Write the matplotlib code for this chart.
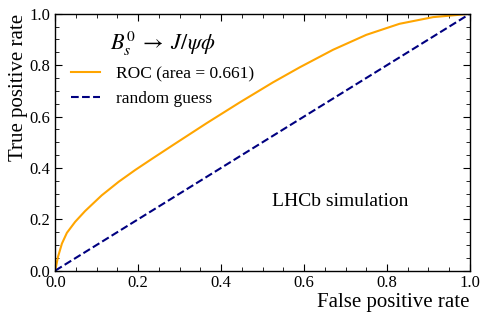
import matplotlib
matplotlib.use('Agg')
import matplotlib.pyplot as plt
from matplotlib.ticker import MultipleLocator

plt.rcParams['font.family'] = 'Liberation Serif'
plt.rcParams['mathtext.fontset'] = 'stix'

# ROC curve
fpr = [0.0, 0.0065, 0.016, 0.028, 0.048, 0.072, 0.112, 0.153, 0.193, 0.233,
       0.284, 0.365, 0.445, 0.525, 0.59, 0.67, 0.75, 0.83, 0.911, 1.0]
tpr = [0.0, 0.053, 0.105, 0.147, 0.19, 0.232, 0.293, 0.346, 0.392, 0.435,
       0.489, 0.574, 0.655, 0.733, 0.792, 0.86, 0.918, 0.961, 0.987, 1.0]
roc_area = 0.661
guess = [0.0, 1.0]

fig = plt.figure(figsize=(4.89, 3.21), dpi=100)
ax = fig.add_axes([0.113, 0.157, 0.848, 0.8])

ax.plot(fpr, tpr, color='orange', lw=1.5, solid_joinstyle='round',
        label='ROC (area = %0.3f)' % roc_area)
ax.plot(guess, guess, color='navy', lw=1.5, ls='--', label='random guess')

ax.set_xlim(0, 1)
ax.set_ylim(0, 1)
ax.xaxis.set_major_locator(MultipleLocator(0.2))
ax.yaxis.set_major_locator(MultipleLocator(0.2))
ax.xaxis.set_minor_locator(MultipleLocator(0.05))
ax.yaxis.set_minor_locator(MultipleLocator(0.05))
ax.tick_params(which='both', direction='in', top=True, right=True, labelsize=12)
ax.tick_params(which='major', length=5)
ax.tick_params(which='minor', length=3)
for s in ax.spines.values():
    s.set_linewidth(1.0)

ax.set_xlabel('False positive rate', fontsize=15, loc='right', labelpad=1)
ax.set_ylabel('True positive rate', fontsize=15, loc='top', labelpad=1)

leg = ax.legend(loc='upper left', frameon=False, fontsize=12.5,
                handlelength=1.7, handletextpad=0.9,
                title=r'$B_s^0 \;\rightarrow\; J/\psi\phi$', title_fontsize=16)
ax.text(0.687, 0.27, 'LHCb simulation', fontsize=14, ha='center', va='center')

fig.savefig('out.png', dpi=100)
